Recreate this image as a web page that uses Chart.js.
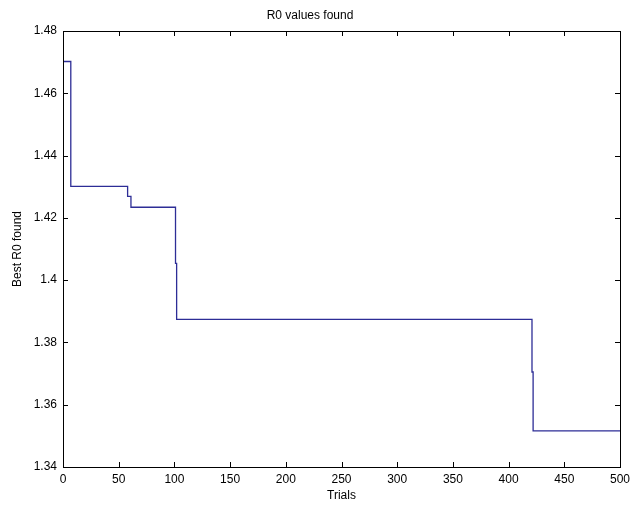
<!DOCTYPE html>
<html>
<head>
<meta charset="utf-8">
<script src="https://cdn.jsdelivr.net/npm/chart.js@4"></script>
<style>
  html, body { margin: 0; padding: 0; background: #ffffff; }
  #wrap { width: 631px; height: 506px; }
</style>
</head>
<body>
<div id="wrap"><canvas id="c" width="631" height="506"></canvas></div>
<script>
// ---- data ----
const trials = [0, 7, 58, 61, 101, 102, 421, 422, 500];
const bestR0 = [1.4702, 1.4301, 1.4269, 1.4234, 1.4054, 1.3874, 1.3705, 1.3516, 1.3516];
const xTickValues = [0, 50, 100, 150, 200, 250, 300, 350, 400, 450, 500];
const yTickValues = [1.34, 1.36, 1.38, 1.40, 1.42, 1.44, 1.46, 1.48];
const chartTitle = 'R0 values found';
const xAxisTitle = 'Trials';
const yAxisTitle = 'Best R0 found';

const points = trials.map((t, i) => ({ x: t, y: bestR0[i] }));
const FONT = 'Liberation Sans, Arial, sans-serif';

// box + inward tick marks (MATLAB style)
const boxPlugin = {
  id: 'boxTicks',
  afterDraw(chart) {
    const { ctx, chartArea: a, scales } = chart;
    const len = 5;
    ctx.save();
    ctx.strokeStyle = '#000';
    ctx.lineWidth = 1;
    ctx.beginPath();
    xTickValues.forEach(v => {
      const px = Math.round(scales.x.getPixelForValue(v)) + 0.5;
      ctx.moveTo(px, a.bottom); ctx.lineTo(px, a.bottom - len);
      ctx.moveTo(px, a.top); ctx.lineTo(px, a.top + len);
    });
    yTickValues.forEach(v => {
      const py = Math.round(scales.y.getPixelForValue(v)) + 0.5;
      ctx.moveTo(a.left, py); ctx.lineTo(a.left + len, py);
      ctx.moveTo(a.right, py); ctx.lineTo(a.right - len, py);
    });
    ctx.stroke();
    ctx.strokeRect(Math.round(a.left) + 0.5, Math.round(a.top) + 0.5,
                   Math.round(a.right - a.left), Math.round(a.bottom - a.top));
    ctx.restore();
  }
};

new Chart(document.getElementById('c'), {
  type: 'line',
  data: {
    datasets: [{
      data: points,
      stepped: true,
      borderColor: 'rgb(45,45,150)',
      borderWidth: 1.3,
      pointRadius: 0,
      fill: false,
      tension: 0
    }]
  },
  options: {
    responsive: false,
    animation: false,
    devicePixelRatio: 1,
    layout: { padding: { left: 0, right: 11, top: 0, bottom: 0 } },
    plugins: {
      legend: { display: false },
      tooltip: { enabled: false },
      title: {
        display: true,
        text: chartTitle,
        color: '#000',
        font: { family: FONT, size: 12, weight: 'normal' },
        padding: { top: 8, bottom: 8.6 }
      }
    },
    scales: {
      x: {
        type: 'linear',
        min: 0, max: 500,
        afterBuildTicks: s => { s.ticks = xTickValues.map(v => ({ value: v })); },
        afterFit: s => { s.height = 39; s.paddingLeft = 0; s.paddingRight = 0; },
        grid: { display: false, drawTicks: false },
        border: { display: false },
        ticks: {
          color: '#000',
          font: { family: FONT, size: 12 },
          padding: 5,
          maxRotation: 0,
          callback: v => String(v)
        },
        title: {
          display: true, text: xAxisTitle, color: '#000',
          font: { family: FONT, size: 12 },
          padding: { top: 0, bottom: 3 }
        }
      },
      y: {
        type: 'linear',
        min: 1.34, max: 1.48,
        afterBuildTicks: s => { s.ticks = yTickValues.map(v => ({ value: v })); },
        afterFit: s => { s.width = 63; s.paddingTop = 0; s.paddingBottom = 0; },
        grid: { display: false, drawTicks: false },
        border: { display: false },
        ticks: {
          color: '#000',
          font: { family: FONT, size: 12 },
          padding: 6,
          callback: v => String(Number(v.toFixed(2)))
        },
        title: {
          display: true, text: yAxisTitle, color: '#000',
          font: { family: FONT, size: 12 },
          padding: { top: 10, bottom: 0 }
        }
      }
    }
  },
  plugins: [boxPlugin]
});
</script>
</body>
</html>
